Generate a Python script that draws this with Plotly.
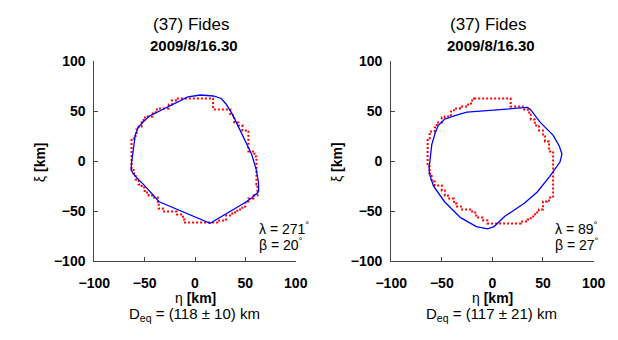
import plotly.graph_objects as go

# ---------------- data (km) ----------------
# Left panel: lambda = 271 deg, beta = 20 deg
model_L_x = [5.5, 18.2, 26.1, 30.8, 37.2, 46.7, 56.2, 60.9, 63.1, 63.1, 56.2, 49.8, 15.0,
             -35.6, -49.8, -59.3, -63.4, -63.1, -59.3, -56.2, -51.4, -45.1, -26.1, -7.1]
model_L_y = [66.4, 65.4, 62.9, 57.4, 47.0, 27.9, 7.3, -8.6, -21.3, -30.2, -36.5, -41.0, -61.9,
             -40.3, -24.4, -14.9, -8.6, -2.2, 26.4, 34.3, 39.7, 45.4, 55.0, 64.5]
ao_L_x = [-18, 17, 18, 29, 35, 39, 43, 47, 53, 53, 59, 61, 62, 58, 53, 50, 47, 42, 37, 31, 28, 22, 15,
          -4, -10, -12, -18, -32, -36, -37, -42, -46, -50, -53, -56, -59, -61, -63, -63, -59, -58,
          -56, -53, -51, -47, -42, -39, -36, -32, -26, -23, -19]
ao_L_y = [63, 63, 52, 52, 46, 39, 36, 31, 26, 10, 5, -5, -23, -34, -37, -40, -45, -48, -51, -54, -58, -59, -61,
          -61, -58, -53, -50, -47, -42, -36, -34, -31, -26, -23, -18, -12, -7, -5, 20, 23, 27,
          32, 35, 39, 44, 45, 48, 52, 53, 53, 57, 61]

# Right panel: lambda = 89 deg, beta = 27 deg
model_R_x = [-25.2, 34.7, 37.8, 47.3, 59.9, 66.2, 68.7, 66.8, 56.7, 44.1, 31.5, 12.6, 1.6, -4.7,
             -15.8, -31.5, -47.3, -58.3, -62.4, -62.4, -59.9, -56.7, -53.6, -47.3, -36.2]
model_R_y = [49.2, 54.0, 51.7, 39.0, 26.3, 15.2, 7.3, -0.6, -14.9, -30.8, -41.9, -54.6, -65.1, -67.3,
             -65.1, -56.2, -40.3, -24.4, -11.7, -5.4, 16.8, 27.9, 35.9, 42.2, 46.0]
ao_R_x = [-18, 18, 18, 30, 35, 38, 42, 46, 50, 52, 56, 60, 60, 56, 54, 50, 46, 42, 38, 35, 28, 28,
          -3, -5, -9, -16, -20, -31, -35, -38, -44, -47, -50, -57, -60, -62, -64, -64, -62, -57,
          -55, -50, -47, -41, -38, -32, -24, -20]
ao_R_y = [63, 63, 55, 52, 49, 42, 36, 31, 25, 20, 10, 6, -34, -36, -39, -40, -48, -51, -55, -58, -60, -62,
          -62, -59, -56, -51, -48, -45, -42, -37, -34, -29, -24, -20, -12, -5, -4, 22, 23, 30,
          34, 39, 44, 45, 50, 53, 55, 58]

titles = ["(37) Fides", "(37) Fides"]
epochs = ["2009/8/16.30", "2009/8/16.30"]
lambdas = [271, 89]
betas = [20, 27]
deq = ["D<sub>eq</sub> = (118 ± 10) km", "D<sub>eq</sub> = (117 ± 21) km"]
tick_vals = [-100, -50, 0, 50, 100]

W, H = 618, 340
FONT = "Liberation Sans, Arial, Helvetica, sans-serif"


def staircase(xs, ys):
    """Closed pixel-silhouette outline: join boundary points with outer axis-aligned steps."""
    px, py = [], []
    n = len(xs)
    for i in range(n + 1):
        x1, y1 = xs[i % n], ys[i % n]
        px.append(x1)
        py.append(y1)
        if i == n:
            break
        x2, y2 = xs[(i + 1) % n], ys[(i + 1) % n]
        if x1 != x2 and y1 != y2:
            c1 = (x2, y1)
            c2 = (x1, y2)
            c = c1 if c1[0] ** 2 + c1[1] ** 2 >= c2[0] ** 2 + c2[1] ** 2 else c2
            px.append(c[0])
            py.append(c[1])
    return px, py


def closed(xs, ys):
    return list(xs) + [xs[0]], list(ys) + [ys[0]]


fig = go.Figure()
panels = [
    (ao_L_x, ao_L_y, model_L_x, model_L_y, "x", "y"),
    (ao_R_x, ao_R_y, model_R_x, model_R_y, "x2", "y2"),
]
for ax, ay, mx, my, xa, ya in panels:
    sx, sy = staircase(ax, ay)
    fig.add_trace(go.Scatter(x=sx, y=sy, mode="lines", xaxis=xa, yaxis=ya,
                             line=dict(color="#ff0000", width=2, dash="2px,2px"),
                             hoverinfo="skip", showlegend=False))
    cx, cy = closed(mx, my)
    fig.add_trace(go.Scatter(x=cx, y=cy, mode="lines", xaxis=xa, yaxis=ya,
                             line=dict(color="#0000ff", width=1.3),
                             hoverinfo="skip", showlegend=False))

# pixel geometry of the two axes boxes
xdoms = [(82, 293), (393, 605)]
ytop, ybot = 56, 266


def px2fx(p):
    return p / W


def py2fy(p):
    return 1 - p / H


axis_common = dict(range=[-100, 100], tickvals=tick_vals, ticks="inside", ticklen=4,
                   tickcolor="#444", showline=True, linecolor="#444", linewidth=1,
                   showgrid=False, zeroline=False, mirror=False, fixedrange=True,
                   tickfont=dict(family=FONT, size=14, color="#000", weight="bold"))

fig.update_layout(
    width=W, height=H, margin=dict(l=0, r=0, t=0, b=0),
    paper_bgcolor="white", plot_bgcolor="white",
    xaxis=dict(domain=[px2fx(xdoms[0][0]), px2fx(xdoms[0][1])], anchor="y",
               ticklabelstandoff=9, **axis_common),
    yaxis=dict(domain=[py2fy(ybot), py2fy(ytop)], anchor="x", ticklabelstandoff=5, **axis_common),
    xaxis2=dict(domain=[px2fx(xdoms[1][0]), px2fx(xdoms[1][1])], anchor="y2",
                ticklabelstandoff=9, **axis_common),
    yaxis2=dict(domain=[py2fy(ybot), py2fy(ytop)], anchor="x2", ticklabelstandoff=5, **axis_common),
)

ann = []
title_dx = [-4, -4]
for i, (x0, x1) in enumerate(xdoms):
    cx = (x0 + x1) / 2
    ann.append(dict(text=titles[i], x=px2fx(cx + title_dx[i]), y=py2fy(17), xref="paper", yref="paper",
                    showarrow=False, xanchor="center", yanchor="middle",
                    font=dict(family=FONT, size=17, color="#000")))
    ann.append(dict(text="<b>" + epochs[i] + "</b>", x=px2fx(cx - 1), y=py2fy(39), xref="paper", yref="paper",
                    showarrow=False, xanchor="center", yanchor="middle",
                    font=dict(family=FONT, size=15, color="#000")))
    ann.append(dict(text="η <b>[km]</b>", x=px2fx(cx), y=py2fy(304), xref="paper", yref="paper",
                    showarrow=False, xanchor="center", yanchor="middle",
                    font=dict(family=FONT, size=14, color="#000")))
    ann.append(dict(text=deq[i], x=px2fx(cx - 1), y=py2fy(322), xref="paper", yref="paper",
                    showarrow=False, xanchor="center", yanchor="middle",
                    font=dict(family=FONT, size=15, color="#000")))
    ann.append(dict(text="ξ <b>[km]</b>", x=px2fx(x0 - 56), y=py2fy(162), xref="paper", yref="paper",
                    showarrow=False, xanchor="center", yanchor="middle", textangle=-90,
                    font=dict(family=FONT, size=14, color="#000")))
    ann.append(dict(text=f"λ = {lambdas[i]}<sup>°</sup>", x=px2fx(x0 + 170), y=py2fy(231),
                    xref="paper", yref="paper", showarrow=False, xanchor="left", yanchor="middle",
                    font=dict(family=FONT, size=14, color="#000")))
    ann.append(dict(text=f"β = {betas[i]}<sup>°</sup>", x=px2fx(x0 + 170), y=py2fy(248),
                    xref="paper", yref="paper", showarrow=False, xanchor="left", yanchor="middle",
                    font=dict(family=FONT, size=14, color="#000")))
fig.update_layout(annotations=ann)

fig.write_html("out.html")
